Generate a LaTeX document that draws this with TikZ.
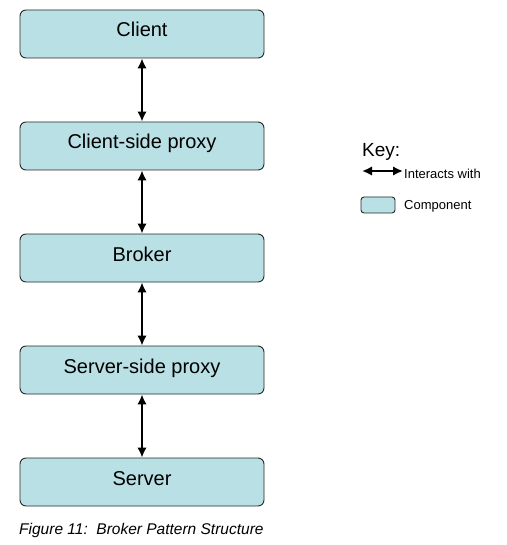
\documentclass[tikz,border=0pt]{standalone}
\usepackage{fontspec}
\setmainfont{Liberation Sans}
\usetikzlibrary{arrows.meta,positioning}
\definecolor{component}{RGB}{185,224,228}
\definecolor{outline}{RGB}{40,40,40}

\begin{document}
\begin{tikzpicture}[
    x=1pt, y=-1pt,
    comp/.style={rectangle, rounded corners=6pt, draw=outline, fill=component,
                 line width=0.9pt, minimum width=244pt, minimum height=48pt,
                 inner sep=0pt, text height=19pt, text depth=13pt,
                 font=\fontsize{20}{24}\selectfont},
    keybox/.style={rectangle, rounded corners=3pt, draw=outline, fill=component,
                   line width=0.9pt, minimum width=34pt, minimum height=16pt, inner sep=0pt},
    link/.style={{Latex[length=10pt,width=9.5pt]}-{Latex[length=10pt,width=9.5pt]}, line width=2pt},
    keytext/.style={anchor=west, inner sep=0pt, font=\fontsize{13}{15}\selectfont}
]
    \useasboundingbox (0,0) rectangle (506,545);

    % Components
    \node[comp] (client) at (142,34) {Client};
    \node[comp] (cproxy) at (142,146) {Client-side proxy};
    \node[comp] (broker) at (142,258) {Broker};
    \node[comp] (sproxy) at (142,370) {Server-side proxy};
    \node[comp] (server) at (142,482) {Server};

    % Links
    \draw[link] (client) -- (cproxy);
    \draw[link] (cproxy) -- (broker);
    \draw[link] (broker) -- (sproxy);
    \draw[link] (sproxy) -- (server);

    % Key
    \node[anchor=west, inner sep=0pt, font=\fontsize{19}{22}\selectfont] (key) at (362,152) {Key:};
    \coordinate (keyl) at (362,171);
    \coordinate (keyr) at (403,171);
    \draw[link] (keyl) -- (keyr);
    \node[keytext] (keylink) at (404,174) {Interacts with};
    \node[keybox] (keycomp) at (378,205) {};
    \node[keytext] (keycomptext) at (404,206) {Component};

    % Caption
    \node[anchor=west, inner sep=0pt, font=\fontsize{15.5}{18}\selectfont\itshape] (caption) at (19,530)
        {Figure 11:\ \ Broker Pattern Structure};
\end{tikzpicture}
\end{document}
